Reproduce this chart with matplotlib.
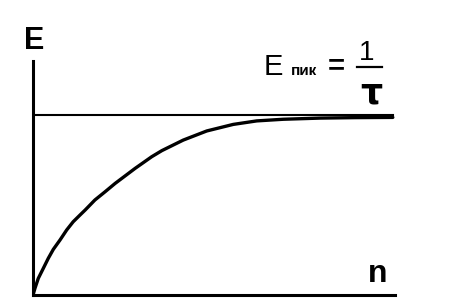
import matplotlib
matplotlib.use("Agg")
from matplotlib import pyplot as plt
from matplotlib.lines import Line2D

# curve (n in 0..100, E in 0..100 of the axis height)
n_vals = [0, 0.55, 1.46, 2.85, 4.23, 5.61, 7.46, 9.31, 11.1, 13.0, 14.4, 17.1,
          19.9, 22.7, 28.2, 32.8, 35.6, 41.5, 48.0, 55.3, 61.8, 69.1, 79.3,
          89.0, 99.4]
e_vals = [0, 2.9, 7.1, 11.4, 15.7, 19.5, 23.5, 27.8, 31.3, 34.2, 36.3, 40.6,
          44.1, 47.7, 54.1, 59.1, 61.7, 66.2, 70.1, 72.9, 74.4, 75.1, 75.6,
          75.8, 75.9]
e_peak = 76.9
line_end = 99.4

W, H = 451, 305
fig = plt.figure(figsize=(W / 100, H / 100), dpi=100)
ax = fig.add_axes([33 / W, 10 / H, 362 / W, 234 / H])

ax.plot(n_vals, e_vals, color="black", lw=2.4, solid_capstyle="round",
        solid_joinstyle="round")
ax.plot([0, line_end], [e_peak, e_peak], color="black", lw=1.5)

ax.set_xlim(0, 100)
ax.set_ylim(0, 100)
ax.set_xticks([])
ax.set_yticks([])
for s in ["top", "right"]:
    ax.spines[s].set_visible(False)
for s in ["left", "bottom"]:
    ax.spines[s].set_linewidth(2.2)
    ax.spines[s].set_capstyle("projecting")


def fx(px):
    return px / W


def fy(py):
    return 1 - py / H


font = "Liberation Sans"
fig.text(fx(24), fy(49), "E", fontsize=22, fontweight="bold", family=font,
         ha="left", va="baseline")
fig.text(fx(368), fy(282), "n", fontsize=23, fontweight="bold", family=font,
         ha="left", va="baseline")

# E_пик = 1/τ
fig.text(fx(264), fy(75), "E", fontsize=21, family=font, ha="left", va="baseline")
fig.text(fx(291), fy(75), "пик", fontsize=11, fontweight="bold", family=font,
         ha="left", va="baseline")
fig.text(fx(336), fy(66), "=", fontsize=21, fontweight="bold", family=font,
         ha="center", va="center")
fig.text(fx(367), fy(60), "1", fontsize=20, family=font, ha="center", va="baseline")
fig.add_artist(Line2D([fx(357), fx(382)], [fy(67), fy(67)], color="black", lw=1.6,
                      transform=fig.transFigure))
fig.text(fx(371), fy(76), "τ", fontsize=25, fontweight="bold", family="DejaVu Sans",
         ha="center", va="top")

fig.savefig("out.png", dpi=100)
